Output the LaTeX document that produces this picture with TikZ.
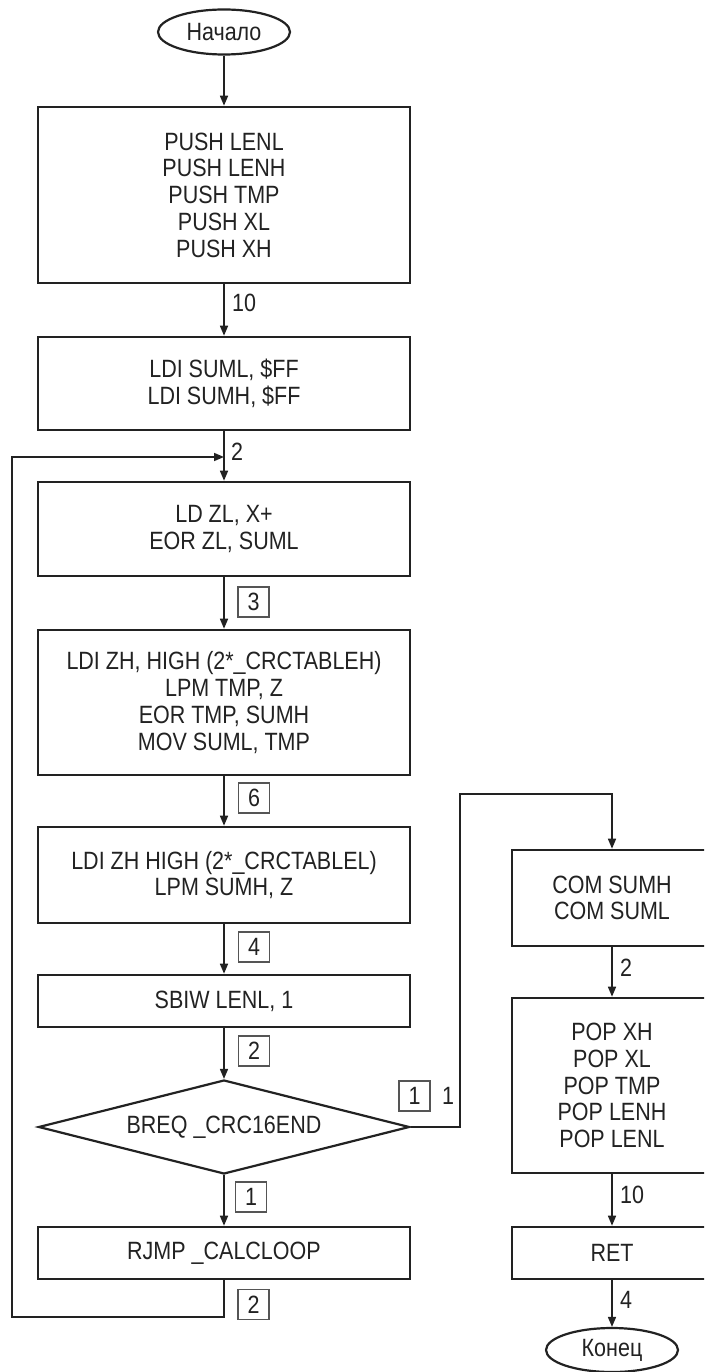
\documentclass[tikz,border=0pt]{standalone}
\usepackage{fontspec}
\setmainfont{Liberation Sans}[FakeStretch=0.86]
\usetikzlibrary{shapes.geometric,arrows.meta}
\definecolor{ink}{HTML}{222222}
\definecolor{lbl}{HTML}{555555}
\tikzset{
  txt/.style={font=\fontsize{25}{26.7}\selectfont, text=ink, align=center},
  blk/.style={txt, draw=ink, line width=2.6pt, rectangle, inner sep=0pt, minimum width=372pt},
  rblk/.style={txt, draw=ink, line width=2.6pt, rectangle, inner sep=0pt, minimum width=200pt},
  term/.style={txt, draw=ink, line width=2.2pt, ellipse, inner sep=0pt, minimum width=132pt, minimum height=45pt},
  dec/.style={txt, draw=ink, line width=2.2pt, diamond, inner sep=0pt, minimum width=371pt, minimum height=94pt, shape aspect=3.95},
  conn/.style={draw=ink, line width=1.6pt},
  arr/.style={conn, -{Triangle[length=10pt,width=8pt]}},
  num/.style={font=\fontsize{25}{26.7}\selectfont, text=ink, inner sep=0pt, anchor=west},
  bnum/.style={font=\fontsize{25}{26.7}\selectfont, text=ink, draw=lbl, line width=1.3pt, inner sep=0pt, minimum width=31pt, minimum height=30pt}
}
\begin{document}
\begin{tikzpicture}[x=1pt,y=-1pt]
\clip (0,0) rectangle (704,1372);
\fill[white] (0,0) rectangle (704,1372);
% left column
\node[term] (start) at (224,32) {Начало};
\node[blk, minimum height=176pt] (b1) at (224,195) {PUSH LENL\\PUSH LENH\\PUSH TMP\\PUSH XL\\PUSH XH};
\node[blk, minimum height=93pt] (b2) at (224,383.5) {LDI SUML, \$FF\\LDI SUMH, \$FF};
\node[blk, minimum height=94pt] (b3) at (224,529) {LD ZL, X+\\EOR ZL, SUML};
\node[blk, minimum height=145pt] (b4) at (224,702.5) {LDI ZH, HIGH (2*\_CRCTABLEH)\\LPM TMP, Z\\EOR TMP, SUMH\\MOV SUML, TMP};
\node[blk, minimum height=96pt] (b5) at (224,875) {LDI ZH HIGH (2*\_CRCTABLEL)\\LPM SUMH, Z};
\node[blk, minimum height=52pt] (b6) at (224,1001) {SBIW LENL, 1};
\node[dec] (d) at (224,1127) {BREQ \_CRC16END};
\node[blk, minimum height=52pt] (b7) at (224,1253) {RJMP \_CALCLOOP};
% right column
\node[rblk, minimum height=96pt] (b8) at (612,898) {COM SUMH\\COM SUML};
\node[rblk, minimum height=175pt] (b9) at (612,1085.5) {POP XH\\POP XL\\POP TMP\\POP LENH\\POP LENL};
\node[rblk, minimum height=52pt] (b10) at (612,1253) {RET};
\node[term, minimum height=44pt] (end) at (612,1350) {Конец};
% helper points
\coordinate (j) at (224,457);
\coordinate (lb) at (224,1317);
\coordinate (ll) at (12,1317);
\coordinate (lt) at (12,457);
\coordinate (r1) at (460,1127);
\coordinate (r2) at (460,794);
\coordinate (r3) at (612,794);
% connectors
\draw[arr] (start.south) -- (b1.north);
\draw[arr] (b1.south) -- (b2.north);
\draw[arr] (b2.south) -- (b3.north);
\draw[arr] (b3.south) -- (b4.north);
\draw[arr] (b4.south) -- (b5.north);
\draw[arr] (b5.south) -- (b6.north);
\draw[arr] (b6.south) -- (d.north);
\draw[arr] (d.south) -- (b7.north);
\draw[arr] (b7.south) -- (lb) -- (ll) -- (lt) -- (j);
\draw[arr] (d.east) -- (r1) -- (r2) -- (r3) -- (b8.north);
\draw[arr] (b8.south) -- (b9.north);
\draw[arr] (b9.south) -- (b10.north);
\draw[arr] (b10.south) -- (end.north);
% labels
\node[num] (l1) at (232,303) {10};
\node[num] (l2) at (231,452) {2};
\node[bnum] (l3) at (253.5,602) {3};
\node[bnum] (l4) at (254,798) {6};
\node[bnum] (l5) at (254,947) {4};
\node[bnum] (l6) at (254,1051) {2};
\node[bnum] (l7) at (414.5,1096) {1};
\node[num] (l8) at (442,1096) {1};
\node[bnum] (l9) at (251,1197) {1};
\node[bnum] (l10) at (253.5,1304.5) {2};
\node[num] (l11) at (620,968) {2};
\node[num] (l12) at (620,1195) {10};
\node[num] (l13) at (620,1300) {4};
\end{tikzpicture}
\end{document}
